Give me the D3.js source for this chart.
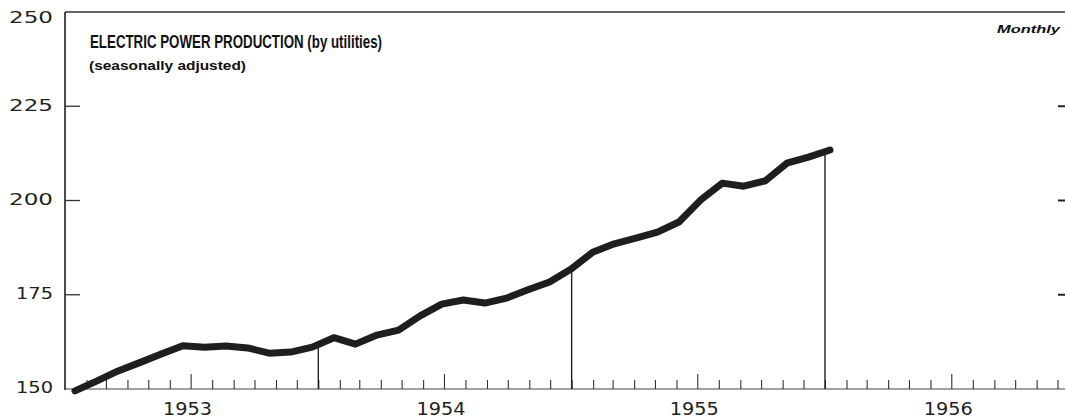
<!DOCTYPE html>
<html><head><meta charset="utf-8">
<script src="https://cdn.jsdelivr.net/npm/d3@7"></script>
<style>html,body{margin:0;padding:0;background:#fff;} svg{display:block;}</style>
</head><body>
<svg id="chart" width="1065" height="419"></svg>
<script>
// ---- data ----
const months = [
  "1953-01","1953-02","1953-03","1953-04","1953-05","1953-06","1953-07","1953-08","1953-09","1953-10","1953-11","1953-12",
  "1954-01","1954-02","1954-03","1954-04","1954-05","1954-06","1954-07","1954-08","1954-09","1954-10","1954-11","1954-12",
  "1955-01","1955-02","1955-03","1955-04","1955-05","1955-06","1955-07","1955-08","1955-09","1955-10","1955-11","1955-12"
];
const production = [
  149.5,152.1,154.8,157.0,159.3,161.5,161.1,161.4,160.9,159.5,159.8,161.1,
  163.6,161.9,164.3,165.6,169.4,172.5,173.6,172.8,174.1,176.3,178.4,181.8,
  186.3,188.5,190.0,191.6,194.3,200.1,204.6,203.8,205.2,209.9,211.5,213.4
];
const yTicks = [150,175,200,225,250];
const yearLabels = ["1953","1954","1955","1956"];
const yearEnds = ["1953-12","1954-12","1955-12"];
const titleText = "ELECTRIC POWER PRODUCTION (by utilities)";
const subtitleText = "(seasonally adjusted)";
const freqText = "Monthly";

// ---- layout ----
(function draw() {
const svg = d3.select("#chart");
const mLeft = 65, mRight = 1065, mTop = 12, mBase = 389;
const parse = d3.timeParse("%Y-%m");

const y = d3.scaleLinear().domain([150,250]).range([mBase, mTop]);
const xTime = d3.scaleTime()
  .domain([new Date(1953,0,1), new Date(1957,0,1)])
  .range([mLeft, mLeft + 4*253.5]);
const xPt = d3.scalePoint().domain(months).range([75, 830]);

const ink = "#1e1e1e";

// frame top and left axis
svg.append("line").attr("x1", mLeft).attr("x2", mRight).attr("y1", mTop).attr("y2", mTop)
  .attr("stroke", "#333").attr("stroke-width", 1.6);
svg.append("line").attr("x1", mLeft).attr("x2", mLeft).attr("y1", mTop).attr("y2", mBase + 1)
  .attr("stroke", ink).attr("stroke-width", 1.6);
// baseline
svg.append("line").attr("x1", mLeft).attr("x2", mRight).attr("y1", mBase).attr("y2", mBase)
  .attr("stroke", "#444").attr("stroke-width", 1.1);

// month ticks (pointing up)
const xAxis = d3.axisBottom(xTime)
  .ticks(d3.timeMonth.every(1))
  .tickSize(-9)
  .tickFormat("");
const gx = svg.append("g").attr("transform", `translate(0,${mBase})`).call(xAxis);
gx.select(".domain").remove();
gx.selectAll(".tick line")
  .attr("stroke", "#333").attr("stroke-width", 1.1)
  .attr("y2", d => d.getMonth() === 6 ? -15 : -9)
  .attr("display", d => (+d === +xTime.domain()[0]) ? "none" : null);

// year labels
svg.append("g").selectAll("text").data(yearLabels).join("text")
  .attr("x", d => xTime(new Date(+d, 6, 1)) - 3)
  .attr("y", 415)
  .attr("text-anchor", "middle")
  .attr("font-family", "'DejaVu Sans', sans-serif")
  .attr("font-size", 17)
  .attr("textLength", 49).attr("lengthAdjust", "spacingAndGlyphs")
  .attr("fill", "#222")
  .text(d => d);

// y labels
svg.append("g").selectAll("text").data(yTicks).join("text")
  .attr("x", 53)
  .attr("y", d => Math.max(y(d) - 1, 18))
  .attr("dy", "0.36em")
  .attr("text-anchor", "end")
  .attr("font-family", "'DejaVu Sans', sans-serif")
  .attr("font-size", 15)
  .attr("textLength", d => String(d)[0] === "1" ? 37 : 44)
  .attr("lengthAdjust", "spacingAndGlyphs")
  .attr("fill", "#222")
  .text(d => d);

// left inner tick marks
const innerTicks = yTicks.filter(d => d > 150 && d < 250);
svg.append("g").selectAll("line").data(innerTicks).join("line")
  .attr("x1", mLeft).attr("x2", mLeft + 15)
  .attr("y1", d => y(d)).attr("y2", d => y(d))
  .attr("stroke", "#333").attr("stroke-width", 1.3);
// right edge tick marks
svg.append("g").selectAll("line").data(innerTicks).join("line")
  .attr("x1", mRight - 7).attr("x2", mRight)
  .attr("y1", d => y(d)).attr("y2", d => y(d))
  .attr("stroke", "#222").attr("stroke-width", 2);

// year-end drop lines
svg.append("g").selectAll("line").data(yearEnds).join("line")
  .attr("x1", d => xTime(d3.timeYear.offset(d3.timeYear.floor(parse(d)), 1)))
  .attr("x2", d => xTime(d3.timeYear.offset(d3.timeYear.floor(parse(d)), 1)))
  .attr("y1", d => y(production[months.indexOf(d)]))
  .attr("y2", mBase)
  .attr("stroke", "#222").attr("stroke-width", 1.4);

// series line
const line = d3.line()
  .x((d, i) => xPt(months[i]))
  .y(d => y(d))
  .curve(d3.curveLinear);
svg.append("path").datum(production)
  .attr("d", line)
  .attr("fill", "none")
  .attr("stroke", ink)
  .attr("stroke-width", 7)
  .attr("stroke-linecap", "round")
  .attr("stroke-linejoin", "round");

// titles
svg.append("text").attr("x", 90).attr("y", 48)
  .attr("font-family", "'Liberation Sans', Arial, sans-serif")
  .attr("font-weight", "bold").attr("font-size", 17.5)
  .attr("textLength", 292).attr("lengthAdjust", "spacingAndGlyphs")
  .attr("fill", "#111").text(titleText);
svg.append("text").attr("x", 89).attr("y", 70)
  .attr("font-family", "'Liberation Sans', Arial, sans-serif")
  .attr("font-weight", "bold").attr("font-size", 12.5)
  .attr("textLength", 157).attr("lengthAdjust", "spacingAndGlyphs")
  .attr("fill", "#111").text(subtitleText);
svg.append("text").attr("x", 1060).attr("y", 33)
  .attr("text-anchor", "end")
  .attr("font-family", "'Liberation Sans', Arial, sans-serif")
  .attr("font-weight", "bold").attr("font-style", "italic").attr("font-size", 11)
  .attr("textLength", 63).attr("lengthAdjust", "spacingAndGlyphs")
  .attr("fill", "#111").text(freqText);
})();
</script>
</body></html>
